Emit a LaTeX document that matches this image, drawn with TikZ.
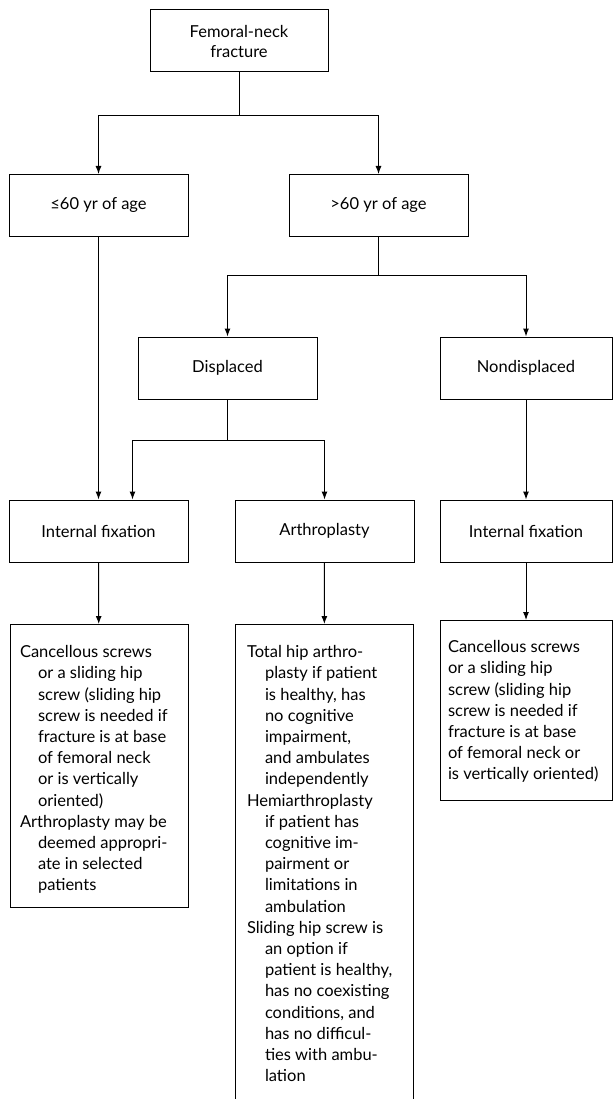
\documentclass[tikz,border=0pt]{standalone}
\usepackage{fontspec}
\setmainfont{Lato}
\usetikzlibrary{arrows.meta,positioning,calc}

\newcommand{\hangpar}{\par\noindent\hangindent=18pt\hangafter=1 }

\begin{document}
\begin{tikzpicture}[x=1pt, y=1pt,
    stepbox/.style={rectangle, draw, line width=1pt, minimum width=179pt, minimum height=62pt,
        align=center, inner sep=0pt, font=\fontsize{16.5}{20}\selectfont},
    notebox/.style={rectangle, draw, line width=1pt, anchor=north, inner ysep=0pt,
        font=\fontsize{16.5}{21.2}\selectfont},
    arr/.style={-{Latex[length=8pt,width=6pt]}, line width=1pt},
    link/.style={line width=1pt}]

    \useasboundingbox (0,0) rectangle (613,-1099);

    % Nodes
    \node[stepbox, minimum width=178pt] (frac) at (239,-41) {Femoral-neck\\fracture};
    \node[stepbox] (young) at (98.5,-205.5) {≤60 yr of age};
    \node[stepbox] (old) at (378.5,-205.5) {>60 yr of age};
    \node[stepbox] (disp) at (227.5,-368) {Displaced};
    \node[stepbox, minimum width=172pt] (nond) at (526,-368) {Nondisplaced};
    \node[stepbox] (fixL) at (98.5,-531) {Internal fixation};
    \node[stepbox] (arth) at (324.5,-531) {Arthroplasty};
    \node[stepbox, minimum width=172pt] (fixR) at (526,-531) {Internal fixation};

    \node[notebox, inner xsep=10pt] (noteL) at (99,-624) {\parbox[c][283pt][t]{158pt}{\raggedright\vspace*{21pt}%
        \hangpar Cancellous screws\newline or a sliding hip\newline screw (sliding hip\newline screw is needed if\newline
        fracture is at base\newline of femoral neck\newline or is vertically\newline oriented)
        \hangpar Arthroplasty may be\newline deemed appropri-\newline ate in selected\newline patients}};
    \node[notebox, inner xsep=12pt] (noteM) at (324,-624) {\parbox[c][490pt][t]{154pt}{\raggedright\vspace*{21pt}%
        \hangpar Total hip arthro-\newline plasty if patient\newline is healthy, has\newline no cognitive\newline
        impairment,\newline and ambulates\newline independently
        \hangpar Hemiarthroplasty\newline if patient has\newline cognitive im-\newline pairment or\newline
        limitations in\newline ambulation
        \hangpar Sliding hip screw is\newline an option if\newline patient is healthy,\newline has no coexisting\newline
        conditions, and\newline has no difficul-\newline ties with ambu-\newline lation}};
    \node[notebox, inner xsep=8pt] (noteR) at (526,-620) {\parbox[c][180pt][t]{156pt}{\raggedright\vspace*{20pt}%
        \noindent Cancellous screws\newline or a sliding hip\newline screw (sliding hip\newline screw is needed if\newline
        fracture is at base\newline of femoral neck or\newline is vertically oriented)}};

    % Splits
    \coordinate (s1) at ($(frac.south)+(0,-43)$);
    \coordinate (s2) at ($(old.south)+(0,-38)$);
    \coordinate (s3) at ($(disp.south)+(0,-41)$);

    % Connectors
    \draw[link] (frac) -- (s1);
    \draw[arr] (s1) -| (young);
    \draw[arr] (s1) -| (old);
    \draw[link] (old) -- (s2);
    \draw[arr] (s2) -| (disp);
    \draw[arr] (s2) -| (nond);
    \draw[link] (disp) -- (s3);
    \draw[arr] (s3) -| ([xshift=34pt]fixL.north);
    \draw[arr] (s3) -| (arth);
    \draw[arr] (young) -- (fixL);
    \draw[arr] (nond) -- (fixR);
    \draw[arr] (fixL) -- (noteL);
    \draw[arr] (arth) -- (noteM);
    \draw[arr] (fixR) -- (noteR);

\end{tikzpicture}
\end{document}
